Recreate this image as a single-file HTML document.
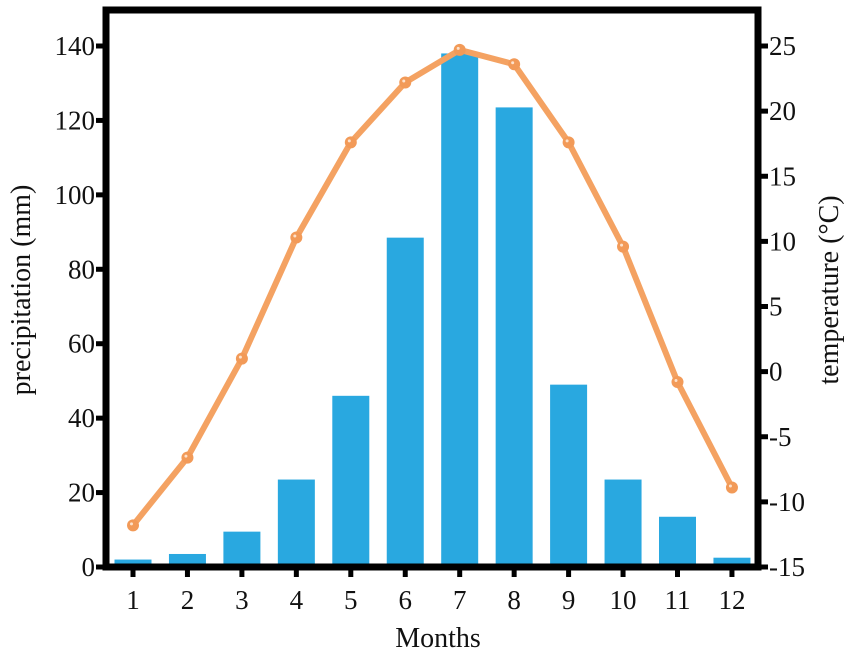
<!DOCTYPE html>
<html><head><meta charset="utf-8"><style>
html,body{margin:0;padding:0;background:#fff;}
svg text{font-family:"Liberation Serif",serif;fill:#111;}
</style></head><body>
<svg id="chart" width="851" height="656" viewBox="0 0 851 656" xmlns="http://www.w3.org/2000/svg">
<g id="bars"></g>
<g id="line"></g>
<g id="axes"></g>
</svg>
<script>
const months = [1,2,3,4,5,6,7,8,9,10,11,12];
const precipitation = [2, 3.5, 9.5, 23.5, 46, 88.5, 138, 123.5, 49, 23.5, 13.5, 2.5];
const temperature = [-11.8, -6.6, 1.0, 10.3, 17.6, 22.2, 24.7, 23.6, 17.6, 9.6, -0.8, -8.9];
const leftTicks = [0,20,40,60,80,100,120,140];
const rightTicks = [-15,-10,-5,0,5,10,15,20,25];

const L=106, R=758, T=10, B=567;
const x = m => 133 + (m-1)*54.45;
const yL = v => B - v*(B-46)/140;
const yR = v => B - (v+15)*(B-46)/40;
const NS="http://www.w3.org/2000/svg";
function mk(tag, attrs, parent){const e=document.createElementNS(NS,tag);for(const k in attrs)e.setAttribute(k,attrs[k]);parent.appendChild(e);return e;}
const bars=document.getElementById('bars'), line=document.getElementById('line'), axes=document.getElementById('axes');

months.forEach((m,i)=>{
  const r=mk('rect',{x:x(m)-18.5,y:yL(precipitation[i]),width:37,height:B-yL(precipitation[i]),fill:'#29a8e0'},bars);
  
  
});
const pts=months.map((m,i)=>x(m)+','+yR(temperature[i])).join(' ');
const pl=mk('polyline',{points:pts,fill:'none',stroke:'#f4a262','stroke-width':6,'stroke-linejoin':'round'},line);


months.forEach((m,i)=>{
  const c=mk('circle',{cx:x(m),cy:yR(temperature[i]),r:6,fill:'#f29a58'},line);
  
  
  mk('circle',{cx:x(m)-1.5,cy:yR(temperature[i])-1.5,r:1.5,fill:'#fde2cc'},line);
});

const fr=mk('rect',{x:L,y:T,width:R-L,height:B-T,fill:'none',stroke:'#000','stroke-width':7},axes);



leftTicks.forEach((v,i)=>{
  const y=yL(v);
  mk('line',{x1:L-10,x2:L,y1:y,y2:y,stroke:'#000','stroke-width':5},axes);
  const t=mk('text',{x:L-11,y:y+9,'font-size':27,'text-anchor':'end'},axes);
  t.textContent=v;
  
  
});
rightTicks.forEach((v,i)=>{
  const y=yR(v);
  mk('line',{x1:R,x2:R+10,y1:y,y2:y,stroke:'#000','stroke-width':5},axes);
  const t=mk('text',{x:R+11,y:y+9,'font-size':27,'text-anchor':'start'},axes);
  t.textContent=v;
  
  
});
months.forEach(m=>{
  mk('line',{x1:x(m),x2:x(m),y1:B,y2:B+10,stroke:'#000','stroke-width':5},axes);
  const t=mk('text',{x:x(m),y:B+42,'font-size':27,'text-anchor':'middle'},axes);
  t.textContent=m;
  
  
});
let t=mk('text',{x:438,y:647,'font-size':28,'text-anchor':'middle'},axes);t.textContent='Months';


t=mk('text',{x:0,y:0,'font-size':28,'text-anchor':'middle',transform:'translate(30,290) rotate(-90)'},axes);t.textContent='precipitation (mm)';


t=mk('text',{x:0,y:0,'font-size':28,'text-anchor':'middle',transform:'translate(838,290) rotate(-90)'},axes);t.textContent='temperature (°C)';


</script>
</body></html>
